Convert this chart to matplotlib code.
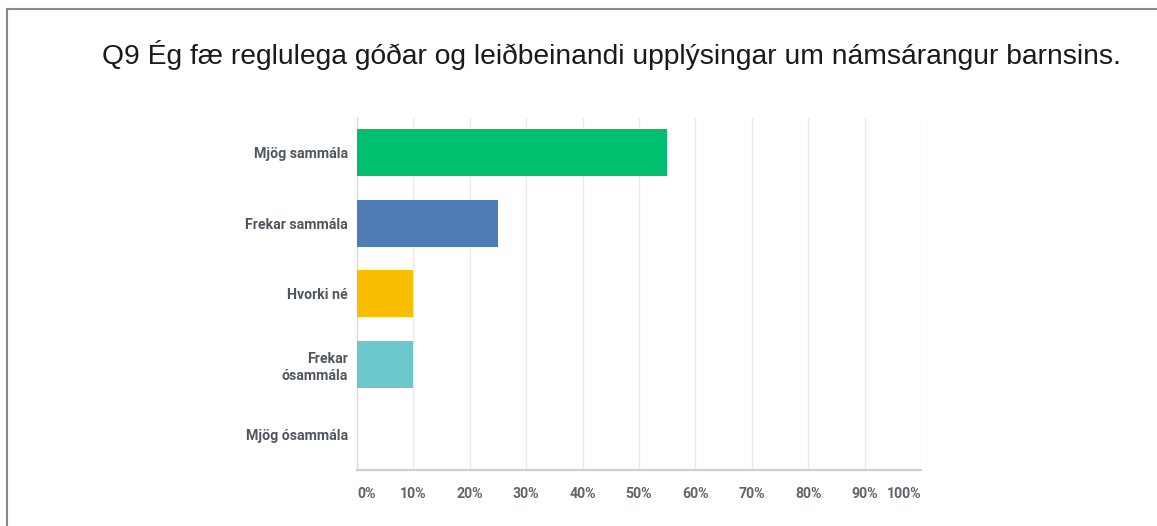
import matplotlib
matplotlib.use("Agg")
import matplotlib.pyplot as plt
from matplotlib.lines import Line2D

title = "Q9 Ég fæ reglulega góðar og leiðbeinandi upplýsingar um námsárangur barnsins."
categories = ["Mjög sammála", "Frekar sammála", "Hvorki né", "Frekar\nósammála", "Mjög ósammála"]
values = [55, 25, 10, 10, 0]
colors = ["#00BF6F", "#507CB6", "#F9BE00", "#6BC8CD", "#A5A5A5"]
tick_vals = [0, 10, 20, 30, 40, 50, 60, 70, 80, 90, 100]
tick_labels = [f"{v}%" for v in tick_vals]

W, H = 1157, 526
fig = plt.figure(figsize=(W / 100, H / 100), dpi=100)
fig.patch.set_facecolor("white")

ax = fig.add_axes([357 / W, 56 / H, (921 - 357) / W, (470 - 117.75) / H])
ypos = list(range(len(categories)))
ax.barh(ypos, values, height=0.667, color=colors, zorder=3)
ax.set_ylim(len(categories) - 0.5, -0.5)
ax.set_xlim(0, 100)

ax.set_yticks(ypos)
ax.set_yticklabels(categories, fontsize=10.2, fontweight="bold", color="#505660",
                   family=["Roboto", "DejaVu Sans"], ha="right", multialignment="right",
                   linespacing=1.25)
ax.tick_params(axis="y", length=0, pad=6.5)

ax.set_xticks(tick_vals)
ax.set_xticklabels(tick_labels, fontsize=10.2, fontweight="bold", color="#5f646c",
                   family=["Roboto", "DejaVu Sans"])
ax.tick_params(axis="x", length=0, pad=12.5)
xl = ax.get_xticklabels()
xl[0].set_ha("left")
xl[-1].set_ha("right")

ax.grid(axis="x", color="#ebebeb", linewidth=1, zorder=0)
ax.grid(axis="y", visible=False)
for s in ["top", "right"]:
    ax.spines[s].set_visible(False)
ax.spines["left"].set_color("#dcdcdc")
ax.spines["left"].set_linewidth(1)
ax.spines["bottom"].set_color("#d0d0d0")
ax.spines["bottom"].set_linewidth(1.6)

fig.text(612 / W, 1 - 55 / H, title, ha="center", va="center", fontsize=20.3,
         family=["Liberation Sans", "DejaVu Sans"], color="#1a1a1a")

# frame lines
fig.add_artist(Line2D([7 / W, 1], [1 - 9 / H, 1 - 9 / H], transform=fig.transFigure,
                      color="#8a8a8a", linewidth=1.5))
fig.add_artist(Line2D([7 / W, 7 / W], [0, 1 - 9 / H], transform=fig.transFigure,
                      color="#8a8a8a", linewidth=1.5))

fig.savefig("out.png", dpi=100, facecolor="white")
